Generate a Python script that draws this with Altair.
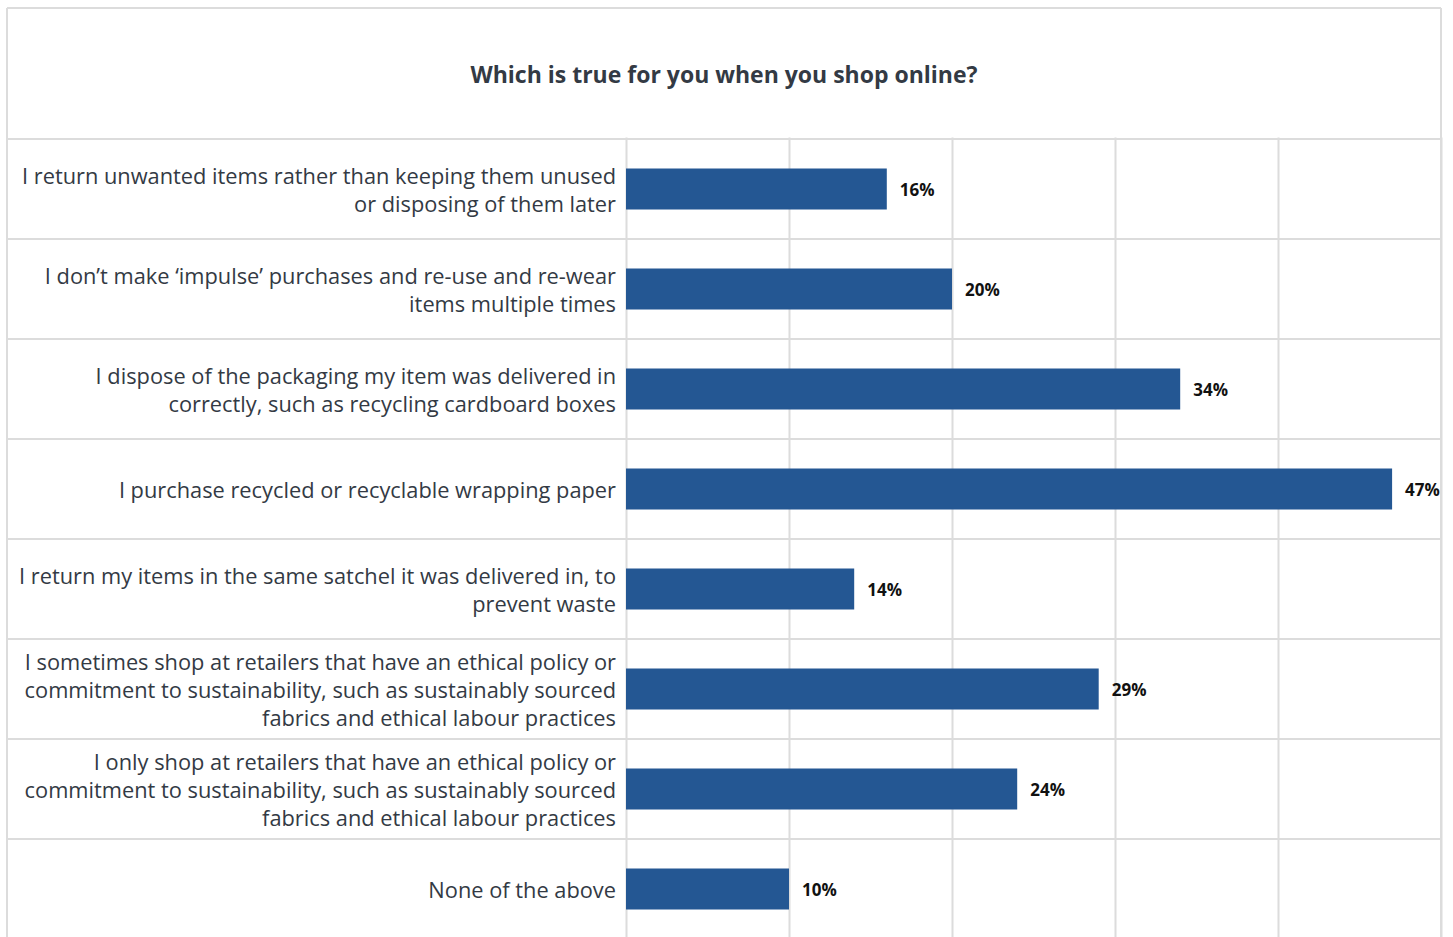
import altair as alt
import pandas as pd

title_text = "Which is true for you when you shop online?"
categories = [
    "I return unwanted items rather than keeping them unused|or disposing of them later",
    "I don\u2019t make \u2018impulse\u2019 purchases and re-use and re-wear|items multiple times",
    "I dispose of the packaging my item was delivered in|correctly, such as recycling cardboard boxes",
    "I purchase recycled or recyclable wrapping paper",
    "I return my items in the same satchel it was delivered in, to|prevent waste",
    "I sometimes shop at retailers that have an ethical policy or|commitment to sustainability, such as sustainably sourced|fabrics and ethical labour practices",
    "I only shop at retailers that have an ethical policy or|commitment to sustainability, such as sustainably sourced|fabrics and ethical labour practices",
    "None of the above",
]
values = [16, 20, 34, 47, 14, 29, 24, 10]
grid_values = [0, 10, 20, 30, 40, 50]

LINE_H = 28
df = pd.DataFrame({"cat": categories, "val": values})
df["lbl"] = [f"{v}%" for v in values]
df["nlines"] = [int(c.count("|") + 1) for c in categories]

TOP = 139
W, H = 815, 798
ROW_SPAN = 800
FONT = "Open Sans"
GRID = "#dcdcdc"
TEXT = "#333a44"

yscale = alt.Scale(domain=categories, paddingInner=0, paddingOuter=0, range=[0, ROW_SPAN])


def yenc(**kw):
    return alt.Y("cat:N", sort=None, scale=yscale, axis=None, **kw)


xenc = alt.X(
    "val:Q",
    scale=alt.Scale(domain=[0, 50], nice=False),
    axis=alt.Axis(
        title=None, labels=False, ticks=False, domain=False,
        grid=True, gridColor=GRID, gridWidth=2, values=grid_values,
    ),
)

base = alt.Chart(df)

bars = base.mark_bar(color="#245793", size=41).encode(x=xenc, y=yenc())

texts = base.mark_text(
    align="left", baseline="middle", dx=13, dy=2, font=FONT, fontSize=17,
    fontWeight="bold", color="#111111",
).encode(x=alt.X("val:Q"), y=yenc(), text="lbl:N")

label_layers = []
for n in (1, 2, 3):
    label_layers.append(
        base.transform_filter(f"datum.nlines == {n}").mark_text(
            align="right", baseline="middle", font=FONT, fontSize=21.8,
            color=TEXT, lineBreak="|", lineHeight=LINE_H,
            dy=-(n - 1) * LINE_H / 2 + 2,
        ).encode(
            x=alt.value(-10),
            y=yenc(),
            text="cat:N",
        )
    )

row_lines = base.mark_rule(color=GRID, strokeWidth=2).encode(
    y=yenc(bandPosition=0),
    x=alt.value(-619), x2=alt.value(W),
)

top_y = 8 - TOP
top_line = base.mark_rule(color=GRID, strokeWidth=2).encode(
    x=alt.value(-619), x2=alt.value(W), y=alt.value(top_y)
)
left_line = base.mark_rule(color=GRID, strokeWidth=2).encode(
    x=alt.value(-619), y=alt.value(top_y), y2=alt.value(H + 10)
)
right_line = base.mark_rule(color=GRID, strokeWidth=2).encode(
    x=alt.value(W), y=alt.value(top_y), y2=alt.value(H + 10)
)

title = alt.Chart(pd.DataFrame({"t": [title_text]})).mark_text(
    align="center", baseline="middle", font=FONT, fontSize=23,
    fontWeight="bold", color=TEXT,
).encode(x=alt.value(98), y=alt.value(76 - TOP), text="t:N")

chart = (
    alt.layer(row_lines, bars, texts, *label_layers, top_line, left_line, right_line, title)
    .properties(
        width=W, height=H,
        autosize=alt.AutoSizeParams(type="none"),
        padding={"left": 626, "top": TOP, "right": 10, "bottom": 0},
    )
    .configure_view(stroke=None)
)

chart.save("out.html", embed_options={"renderer": "svg", "actions": False})
